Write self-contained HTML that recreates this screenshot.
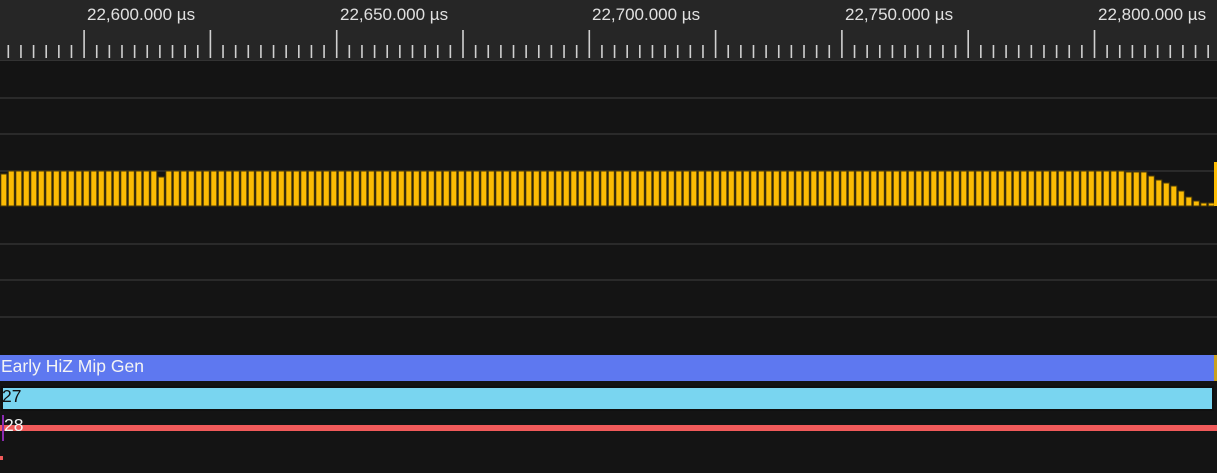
<!DOCTYPE html><html><head><style>
body{margin:0;width:1217px;height:473px;background:#141414;overflow:hidden;font-family:"Liberation Sans",sans-serif;position:relative}
.t{position:absolute;color:#e0e0e0;font-size:17px}
</style></head><body>
<div style="position:absolute;left:0;top:0;width:1217px;height:60px;background:#262626;border-bottom:1px solid #333"></div>
<svg id="s" width="1217" height="473" style="position:absolute;left:0;top:0"></svg>
<div class="t" style="left:87px;top:5px">22,600.000 µs</div>
<div class="t" style="left:340px;top:5px">22,650.000 µs</div>
<div class="t" style="left:592px;top:5px">22,700.000 µs</div>
<div class="t" style="left:845px;top:5px">22,750.000 µs</div>
<div class="t" style="left:1098px;top:5px">22,800.000 µs</div>
<div style="position:absolute;left:0;top:355px;width:1214px;height:26px;background:#5e78f0"></div>
<div class="t" style="left:1px;top:356px;color:#f4f4f4;font-size:17.5px">Early HiZ Mip Gen</div>
<div style="position:absolute;left:1px;top:386px;width:1209px;height:21px;background:#79d5f0;border:2px solid #101010"></div>
<div class="t" style="left:2px;top:386px;color:#111;font-size:17.5px">27</div>
<div style="position:absolute;left:0;top:425px;width:1217px;height:6px;background:#f05a5a"></div>
<div class="t" style="left:4px;top:415px;color:#f4f4f4;font-size:17.5px">28</div>
<div style="position:absolute;left:2px;top:415px;width:2px;height:26px;background:#8a2ab0"></div>
<div style="position:absolute;left:0;top:456px;width:3px;height:4px;background:#f05a5a"></div>
<div style="position:absolute;left:1214px;top:355px;width:3px;height:26px;background:#c8a020"></div>
<script>
(function(){
var s=document.getElementById('s'),h='';
[97,133,170,243,279,316].forEach(function(y){h+='<rect x="0" y="'+y+'" width="1217" height="2" fill="#2a2a2a"/>';});
for(var i=-6;i<100;i++){var x=84+i*12.63;if(x<0||x>1217)continue;var m=((i%10)+10)%10==0;
h+='<rect x="'+(x-0.7)+'" y="'+(m?30:45)+'" width="1.6" height="'+(m?28:13)+'" fill="#d0d0d0"/>';}
var tail=[176,180,183,186,191,197,201,203,203];
for(var j=0;j<162;j++){var bx=j*7.5,ty=171;
if(j==0)ty=174;if(j==21)ty=177;
if(j>=150&&j<153)ty=172;
var k=j-153;if(k>=0)ty=tail[k];
h+='<rect x="'+(bx+0.8)+'" y="'+ty+'" width="6" height="'+(206-ty)+'" fill="#fcbc04" stroke="#4a3a08" stroke-width="1"/>';}
h+='<rect x="1214" y="162" width="3" height="44" fill="#fcbc04"/>';
s.innerHTML=h;
})();
</script>
</body></html>
